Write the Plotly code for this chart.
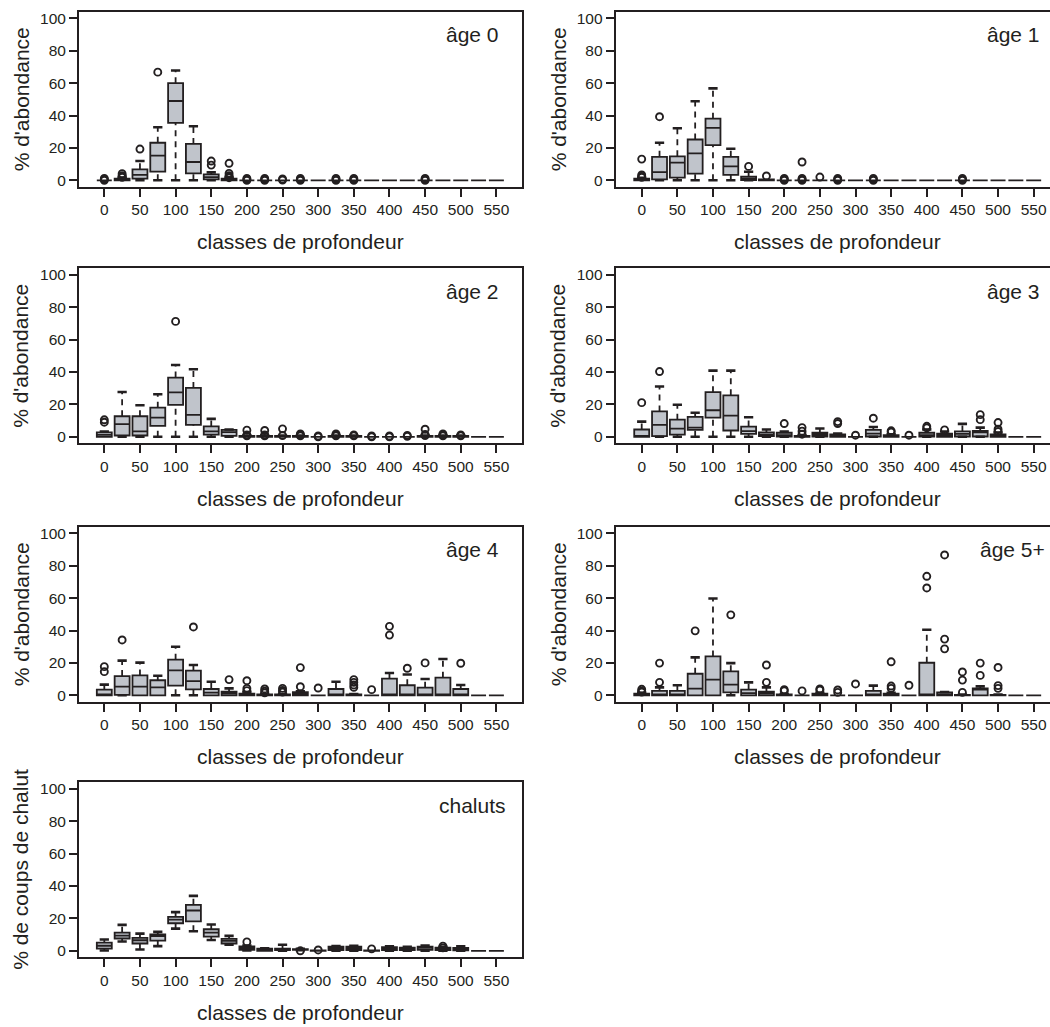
import plotly.graph_objects as go

# ---------------- data ----------------
CLASSES = [0, 25, 50, 75, 100, 125, 150, 175, 200, 225, 250, 275,
           300, 325, 350, 375, 400, 425, 450, 475, 500, 525, 550]
X_TICKS = [0, 50, 100, 150, 200, 250, 300, 350, 400, 450, 500, 550]
X_TICK_TEXT = ["0", "50", "100", "150", "200", "250", "300", "350",
               "400", "450", "500", "550"]
Y_TICKS = [0, 20, 40, 60, 80, 100]
Y_TICK_TEXT = ["0", "20", "40", "60", "80", "100"]

PANEL_LABELS = ["âge 0", "âge 1", "âge 2", "âge 3", "âge 4", "âge 5+", "chaluts"]
Y_TITLES = ["% d'abondance"] * 6 + ["% de coups de chalut"]
X_TITLE = "classes de profondeur"

# âge 0
AGE0_Q1 = [0, 0, 1, 5.3, 35.5, 4.3, 0.6, 0, 0, 0, 0, 0, 0, 0, 0, 0, 0, 0, 0, 0, 0, 0, 0]
AGE0_MED = [0, 0.4, 3.3, 15.2, 49, 11.3, 2, 0.3, 0, 0, 0, 0, 0, 0, 0, 0, 0, 0, 0, 0, 0, 0, 0]
AGE0_Q3 = [0, 1, 6.8, 23.2, 60, 22.5, 3.7, 1, 0, 0, 0, 0, 0, 0, 0, 0, 0, 0, 0, 0, 0, 0, 0]
AGE0_LO = [0, 0, 0, 0, 0, 0, 0, 0, 0, 0, 0, 0, 0, 0, 0, 0, 0, 0, 0, 0, 0, 0, 0]
AGE0_HI = [0, 1.5, 11.9, 32.8, 67.8, 33.4, 4.9, 1.5, 0, 0, 0, 0, 0, 0, 0, 0, 0, 0, 0, 0, 0, 0, 0]
AGE0_OUT = [[0.0, 0.6, 1.2], [1.8, 2.4, 2.9, 4.1], [19.3], [66.8], [], [], [9.4, 11.9],
            [1.6, 2.2, 2.8, 4.3, 10.5], [0.0, 0.6, 1.2], [0.0, 0.6, 1.2], [0.2, 0.8],
            [0.0, 0.6, 1.2], [], [0.0, 0.6, 1.2], [0.0, 0.6, 1.2], [], [], [],
            [0.0, 0.6, 1.2], [], [], [], []]

# âge 1
AGE1_Q1 = [0, 0.6, 1.6, 4.1, 21.7, 3.3, 0.2, 0, 0, 0, 0, 0, 0, 0, 0, 0, 0, 0, 0, 0, 0, 0, 0]
AGE1_MED = [0.3, 5.1, 10.9, 16.6, 32.4, 8.6, 1, 0, 0, 0, 0, 0, 0, 0, 0, 0, 0, 0, 0, 0, 0, 0, 0]
AGE1_Q3 = [1, 14.5, 14.8, 25.2, 38.1, 14.5, 2.3, 0.5, 0, 0, 0, 0, 0, 0, 0, 0, 0, 0, 0, 0, 0, 0, 0]
AGE1_LO = [0, 0, 0, 0, 0, 0, 0, 0, 0, 0, 0, 0, 0, 0, 0, 0, 0, 0, 0, 0, 0, 0, 0]
AGE1_HI = [1.5, 23.2, 32.2, 48.8, 56.8, 19.5, 5.3, 0.5, 0, 0, 0, 0, 0, 0, 0, 0, 0, 0, 0, 0, 0, 0, 0]
AGE1_OUT = [[1.8, 2.4, 3.3, 13.1], [39.3], [], [], [], [], [8.6], [2.7], [0.0, 0.6, 1.2],
            [0.0, 0.6, 1.2, 11.3], [2.0], [0.0, 0.6, 1.2], [], [0.0, 0.6, 1.2], [], [], [], [],
            [0.0, 0.6, 1.2], [], [], [], []]

# âge 2
AGE2_Q1 = [0, 0.8, 0.8, 6.8, 19.7, 7.4, 1.4, 0.6, 0, 0, 0, 0, 0, 0, 0, 0, 0, 0, 0, 0, 0, 0, 0]
AGE2_MED = [1.2, 7.8, 3.3, 11.9, 27.5, 13.6, 3.3, 2.9, 0, 0, 0, 0, 0, 0, 0, 0, 0, 0, 0, 0, 0, 0, 0]
AGE2_Q3 = [2.7, 12.7, 12.7, 18, 36.6, 30.2, 6.4, 4.3, 0.5, 0.5, 0.5, 0.5, 0, 0.5, 0.5, 0, 0, 0, 0.5, 0.5, 0.5, 0, 0]
AGE2_LO = [0, 0, 0, 0, 0, 0, 0, 0, 0, 0, 0, 0, 0, 0, 0, 0, 0, 0, 0, 0, 0, 0, 0]
AGE2_HI = [3.2, 27.7, 19.5, 26.3, 44.4, 41.7, 11.1, 4.5, 0.8, 0.8, 0.8, 0.8, 0, 0.8, 0.8, 0, 0, 0, 0.8, 0.8, 0.8, 0, 0]
AGE2_OUT = [[9.0, 10.5], [], [], [], [71.3], [], [], [], [0.6, 1.2, 4.1],
            [0.6, 1.2, 3.9], [0.8, 4.9], [0.6, 1.2, 1.8], [0.0, 0.5], [0.6, 1.2, 1.8],
            [0.6, 1.2], [0.0, 0.5], [0.0, 0.5], [0.3, 0.9], [0.8, 1.4, 4.7], [0.6, 1.2, 1.8],
            [0.6, 1.2], [], []]

# âge 3
AGE3_Q1 = [0, 0.4, 1.4, 4.3, 11.9, 3.9, 1.8, 0.4, 0.2, 0, 0.2, 0, 0, 0.2, 0, 0, 0.2, 0, 0.2, 0.2, 0, 0, 0]
AGE3_MED = [0.2, 7.4, 5.1, 5.7, 16.4, 13.1, 3.5, 1.4, 1, 0.2, 1.4, 0.5, 0, 2.0, 0.3, 0, 1, 1, 1.8, 2.7, 1, 0, 0]
AGE3_Q3 = [4.5, 15.7, 10.6, 12.3, 27.6, 25.6, 6.3, 2.7, 2.5, 0.5, 2.5, 1.5, 0, 4.3, 1, 0, 2.5, 2, 3.3, 3.7, 1.5, 0, 0]
AGE3_LO = [0, 0, 0, 0, 0, 0, 0, 0, 0, 0, 0, 0, 0, 0, 0, 0, 0, 0, 0, 0, 0, 0, 0]
AGE3_HI = [9.4, 31.1, 19.8, 14.9, 40.9, 40.9, 12.1, 4.5, 3.3, 0.8, 5.1, 2, 0, 6.1, 1.5, 0, 4.5, 3.3, 8, 5.7, 2.7, 0, 0]
AGE3_OUT = [[21.1], [40.3], [], [], [], [], [], [], [8.2], [1.6, 3.5, 5.7], [],
            [8.2, 9.4], [1.0], [11.5], [2.9, 3.7], [1.0], [5.5, 6.5], [4.3], [],
            [10.6, 13.7], [3.3, 4.7, 8.8], [], []]

# âge 4
AGE4_Q1 = [0, 0.2, 0, 0, 6, 3.7, 0, 0, 0, 0, 0, 0, 0, 0, 0, 0, 0, 0, 0, 0, 0, 0, 0]
AGE4_MED = [0.2, 5.3, 5.3, 4.9, 15.4, 8.8, 1.6, 1.2, 0.3, 0, 0, 0.8, 0, 0.6, 0.2, 0, 0.6, 0.3, 0, 0, 0, 0, 0]
AGE4_Q3 = [3.5, 11.9, 12.3, 9.3, 22, 15.2, 3.9, 2.3, 1, 0.5, 0.5, 2, 0, 3.9, 0.5, 0, 10.3, 6.2, 4.7, 10.9, 3.9, 0, 0]
AGE4_LO = [0, 0, 0, 0, 0, 0, 0, 0, 0, 0, 0, 0, 0, 0, 0, 0, 0, 0, 0, 0, 0, 0, 0]
AGE4_HI = [6.6, 21.4, 20.2, 12.1, 30, 18.7, 8.4, 4.3, 2, 0.8, 0.8, 2.5, 0, 8.4, 0.8, 0, 13.8, 12.8, 10.1, 22.4, 6.4, 0, 0]
AGE4_OUT = [[14.6, 17.7], [34.2], [], [], [], [42.2], [], [9.7], [2.9, 4.3, 9.0],
            [1.5, 2.5, 3.9], [2.0, 3.0, 4.3], [5.3, 17.1], [4.5], [],
            [4.9, 6.4, 8.0, 9.7], [3.5], [37.2, 42.6], [16.7], [20.0], [], [19.8], [], []]

# âge 5+
AGE5_Q1 = [0, 0, 0, 0, 0, 1.8, 0, 0, 0, 0, 0, 0, 0, 0, 0, 0, 0, 0, 0, 0, 0, 0, 0]
AGE5_MED = [0.3, 0.4, 0, 4.1, 9.7, 6.6, 1.4, 1.2, 0, 0, 0.3, 0, 0, 0, 0.3, 0, 0, 0.5, 0, 3.5, 0, 0, 0]
AGE5_Q3 = [1, 2.7, 2.7, 13.3, 24, 14.8, 3.5, 2.3, 0.5, 0, 1, 0, 0, 2.7, 1, 0, 20.1, 1.8, 0.3, 4.3, 0.3, 0, 0]
AGE5_LO = [0, 0, 0, 0, 0, 0, 0, 0, 0, 0, 0, 0, 0, 0, 0, 0, 0, 0, 0, 0, 0, 0, 0]
AGE5_HI = [1.5, 4.9, 6.2, 23.4, 59.8, 19.9, 8, 4.9, 0.8, 0, 1.5, 0, 0, 6, 1.5, 0, 40.5, 2, 0.5, 5.5, 0.5, 0, 0]
AGE5_OUT = [[2.0, 2.6, 3.7], [8.0, 19.9], [], [39.8], [], [49.7], [], [8.0, 18.7],
            [2.7, 3.5], [2.7], [3.3, 3.9], [1.8, 3.3], [7.0], [], [4.3, 5.7, 20.7],
            [6.2], [66.3, 73.5], [28.7, 34.7, 86.7], [1.8, 9.4, 14.4], [12.3, 19.9],
            [4.3, 6.0, 17.2], [], []]

# chaluts
CHAL_Q1 = [1.4, 7.6, 4.5, 6.3, 17, 18.2, 8.8, 4.5, 0.6, 0, 0.4, 0.6, 0, 0.4, 0.4, 0, 0.4, 0.4, 0.6, 0.4, 0.3, 0, 0]
CHAL_MED = [3.1, 9.4, 6.5, 9, 19.2, 24.9, 11.2, 6.1, 1.6, 0.6, 0.8, 0.8, 0, 1.4, 1.4, 0, 1.4, 1.2, 1.8, 1.2, 0.8, 0, 0]
CHAL_Q3 = [5.1, 11.2, 8, 10.2, 20.9, 28.4, 13.3, 7.4, 2.7, 1.4, 1.4, 1.0, 0.3, 2.5, 2.5, 0.3, 2.2, 2.0, 2.5, 2.0, 1.8, 0, 0]
CHAL_LO = [0.2, 5.7, 0.8, 2.9, 13.7, 12.1, 6.7, 3.7, 0.2, 0, 0, 0.4, 0, 0, 0, 0, 0, 0, 0, 0, 0, 0, 0]
CHAL_HI = [7, 16, 10.6, 11.7, 23.9, 33.9, 16.2, 9.2, 3.3, 1.6, 3.7, 1.2, 0.3, 2.9, 3.1, 0.3, 2.7, 2.4, 3.3, 2.5, 2.7, 0, 0]
CHAL_OUT = [[], [], [], [], [], [], [], [], [5.5], [], [], [0.0], [0.5], [], [],
            [1.2], [], [], [], [1.8, 2.9], [], [], []]

PANELS = [
    (AGE0_Q1, AGE0_MED, AGE0_Q3, AGE0_LO, AGE0_HI, AGE0_OUT),
    (AGE1_Q1, AGE1_MED, AGE1_Q3, AGE1_LO, AGE1_HI, AGE1_OUT),
    (AGE2_Q1, AGE2_MED, AGE2_Q3, AGE2_LO, AGE2_HI, AGE2_OUT),
    (AGE3_Q1, AGE3_MED, AGE3_Q3, AGE3_LO, AGE3_HI, AGE3_OUT),
    (AGE4_Q1, AGE4_MED, AGE4_Q3, AGE4_LO, AGE4_HI, AGE4_OUT),
    (AGE5_Q1, AGE5_MED, AGE5_Q3, AGE5_LO, AGE5_HI, AGE5_OUT),
    (CHAL_Q1, CHAL_MED, CHAL_Q3, CHAL_LO, CHAL_HI, CHAL_OUT),
]

# ---------------- style / layout ----------------
W, H = 1050, 1027
INK = "#231f20"
BOX_FILL = "#c0c4cb"
FONT = "Liberation Sans, Arial, Helvetica, sans-serif"
BOX_W = 21
CAP_HALF = 6.5

LEFT_DOM = (79 / W, 521.7 / W)
RIGHT_DOM = (615.7 / W, 1.0)
LEFT_RANGE = [-35.5, 585.5]
RIGHT_RANGE = [-36.5, 572.9]
ROW_TOPS = [10, 267.5, 527, 783.5]
ROW_H = 175.5

fig = go.Figure()
layout = dict(
    width=W, height=H,
    margin=dict(l=0, r=0, t=0, b=0),
    paper_bgcolor="white", plot_bgcolor="white",
    showlegend=False,
    font=dict(family=FONT, color=INK),
)
annotations = []

for i, (q1, med, q3, lo, hi, out) in enumerate(PANELS):
    row, col = divmod(i, 2)
    n = i + 1
    xa = "x" if n == 1 else f"x{n}"
    ya = "y" if n == 1 else f"y{n}"
    top = ROW_TOPS[row]
    bottom = top + ROW_H
    ydom = [1 - bottom / H, 1 - top / H]
    xdom = list(LEFT_DOM if col == 0 else RIGHT_DOM)
    xrange = LEFT_RANGE if col == 0 else RIGHT_RANGE

    # boxes
    fig.add_trace(go.Box(
        x=CLASSES, q1=q1, median=med, q3=q3, lowerfence=q1, upperfence=q3,
        width=BOX_W, fillcolor=BOX_FILL, line=dict(color=INK, width=1.8),
        whiskerwidth=0, boxpoints=False, hoverinfo="skip",
        xaxis=xa, yaxis=ya, showlegend=False))

    # whiskers (dashed) and staples
    wx, wy, cx, cy = [], [], [], []
    for c, a, b, l, h in zip(CLASSES, q1, q3, lo, hi):
        if h > b:
            wx += [c, c, None]; wy += [b, h, None]
            cx += [c - CAP_HALF, c + CAP_HALF, None]; cy += [h, h, None]
        if l < a:
            wx += [c, c, None]; wy += [l, a, None]
            cx += [c - CAP_HALF, c + CAP_HALF, None]; cy += [l, l, None]
    fig.add_trace(go.Scatter(x=wx, y=wy, mode="lines",
                             line=dict(color=INK, width=1.8, dash="6px,5px"),
                             hoverinfo="skip", xaxis=xa, yaxis=ya))
    fig.add_trace(go.Scatter(x=cx, y=cy, mode="lines",
                             line=dict(color=INK, width=2.6),
                             hoverinfo="skip", xaxis=xa, yaxis=ya))

    # outliers
    ox, oy = [], []
    for c, vals in zip(CLASSES, out):
        for v in vals:
            ox.append(c); oy.append(v)
    fig.add_trace(go.Scatter(x=ox, y=oy, mode="markers",
                             marker=dict(symbol="circle-open", size=7, color=INK,
                                         line=dict(width=1.9, color=INK)),
                             hoverinfo="skip", xaxis=xa, yaxis=ya))

    xkey = "xaxis" if n == 1 else f"xaxis{n}"
    ykey = "yaxis" if n == 1 else f"yaxis{n}"
    layout[xkey] = dict(
        domain=xdom, anchor=ya, range=xrange, fixedrange=True,
        tickmode="array", tickvals=X_TICKS, ticktext=X_TICK_TEXT,
        ticks="outside", ticklen=8, tickwidth=1.5, tickcolor=INK,
        showline=True, linewidth=2, linecolor=INK, mirror=True,
        showgrid=False, zeroline=False,
        tickfont=dict(family=FONT, size=15.5, color=INK))
    layout[ykey] = dict(
        domain=ydom, anchor=xa, range=[-4, 104], fixedrange=True,
        tickmode="array", tickvals=Y_TICKS, ticktext=Y_TICK_TEXT,
        ticks="outside", ticklen=8, tickwidth=1.5, tickcolor=INK,
        showline=True, linewidth=2, linecolor=INK, mirror=(col == 0),
        showgrid=False, zeroline=False,
        tickfont=dict(family=FONT, size=15.5, color=INK))

    # panel label
    if col == 0:
        annotations.append(dict(text=PANEL_LABELS[i], xref="paper", yref="paper",
                                x=472 / W, y=1 - (top + 23) / H, xanchor="center",
                                yanchor="middle", showarrow=False,
                                font=dict(family=FONT, size=21, color=INK)))
    elif len(PANEL_LABELS[i]) > 5:
        annotations.append(dict(text=PANEL_LABELS[i], xref="paper", yref="paper",
                                x=1047 / W, y=1 - (top + 23) / H, xanchor="right",
                                yanchor="middle", showarrow=False,
                                font=dict(family=FONT, size=21, color=INK)))
    else:
        annotations.append(dict(text=PANEL_LABELS[i], xref="paper", yref="paper",
                                x=985 / W, y=1 - (top + 23) / H, xanchor="left",
                                yanchor="middle", showarrow=False,
                                font=dict(family=FONT, size=21, color=INK)))
    # x title
    xc = 300.5 / W if col == 0 else 837 / W
    annotations.append(dict(text=X_TITLE, xref="paper", yref="paper",
                            x=xc, y=1 - (bottom + 55) / H, xanchor="center",
                            yanchor="middle", showarrow=False,
                            font=dict(family=FONT, size=21, color=INK)))
    # y title
    yx = 21 / W if col == 0 else 558 / W
    annotations.append(dict(text=Y_TITLES[i], xref="paper", yref="paper",
                            x=yx, y=1 - (top + ROW_H / 2) / H, xanchor="center",
                            yanchor="middle", textangle=-90, showarrow=False,
                            font=dict(family=FONT, size=21, color=INK)))

layout["annotations"] = annotations
fig.update_layout(**layout)
fig.write_html(
    "out.html",
    config={"displayModeBar": False},
    post_script="document.body.style.margin='0px';"
                "document.body.style.overflow='hidden';",
)
